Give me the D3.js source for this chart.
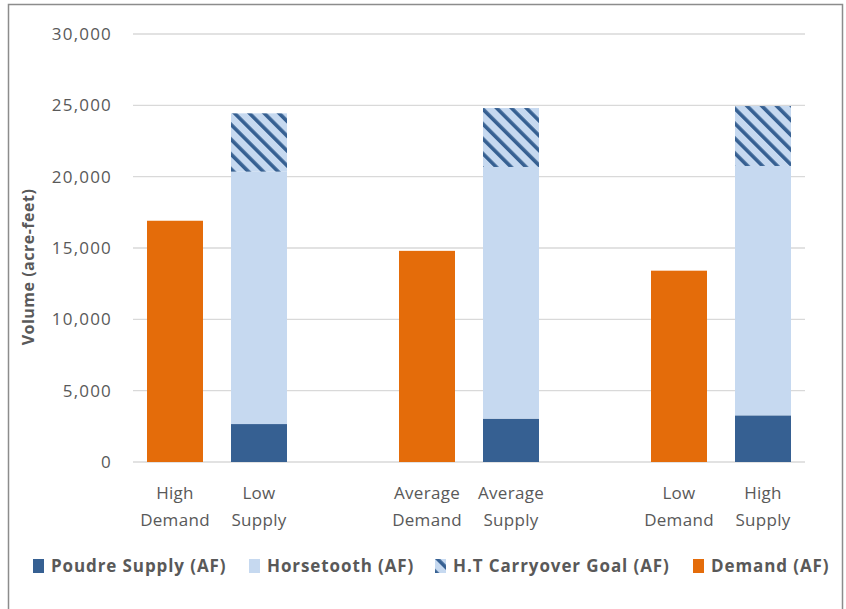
<html>
<head>
  <script src="https://d3js.org/d3.v7.min.js"></script>
  <style>
    body { margin: 0; background: #fff; }
    text { font-family: "Open Sans", sans-serif; fill: #595959; }
  </style>
</head>
<body>
  <svg id="chart" width="846" height="609"></svg>
  <script>
    // categories (blank slots are the gaps between scenario pairs)
    var categories = ["High|Demand", "Low|Supply", "", "Average|Demand", "Average|Supply", "", "Low|Demand", "High|Supply"];
    var poudre     = [0, 2660, 0, 0, 3040, 0, 0, 3270];
    var horsetooth = [0, 17690, 0, 0, 17640, 0, 0, 17480];
    var carryover  = [0, 4090, 0, 0, 4130, 0, 0, 4200];
    var demand     = [16910, 0, 0, 14800, 0, 0, 13410, 0];
    var yTicks = [0, 5000, 10000, 15000, 20000, 25000, 30000];
    var seriesNames = ["Poudre Supply (AF)", "Horsetooth (AF)", "H.T Carryover Goal (AF)", "Demand (AF)"];

    var colors = { poudre: "#366092", horse: "#c6d9f0", demand: "#e46c0a" };

    var svg = d3.select("#chart");

    // outer chart border
    svg.append("rect")
      .attr("x", 8.5).attr("y", 4.5).attr("width", 834).attr("height", 620)
      .attr("fill", "none").attr("stroke", "#8c8c8c").attr("stroke-width", 1.5);

    // hatch for carryover
    var defs = svg.append("defs");
    var pat = defs.append("pattern")
      .attr("id", "hatch").attr("patternUnits", "userSpaceOnUse")
      .attr("width", 10.5).attr("height", 10.5)
      .attr("patternTransform", "rotate(-45)");
    pat.append("rect").attr("width", 10.5).attr("height", 10.5).attr("fill", colors.horse);
    pat.append("rect").attr("x", 0).attr("width", 3.6).attr("height", 10.5).attr("fill", colors.poudre);

    var x = d3.scaleBand()
      .domain(d3.range(categories.length))
      .range([133, 805])
      .paddingInner(1 / 3).paddingOuter(1 / 6);

    var y = d3.scaleLinear().domain([0, 30000]).range([462, 34]);

    // gridlines
    svg.append("g").selectAll("line")
      .data(yTicks).enter().append("line")
      .attr("x1", 133).attr("x2", 805)
      .attr("y1", d => y(d)).attr("y2", d => y(d))
      .attr("stroke", "#d9d9d9").attr("stroke-width", 1.3);

    // y axis labels
    var yAxis = svg.append("g")
      .attr("transform", "translate(133,0)")
      .call(d3.axisLeft(y).tickValues(yTicks).tickFormat(d3.format(",")).tickSize(0).tickPadding(21));
    yAxis.select(".domain").remove();
    yAxis.selectAll("text").style("font-size", "17px").style("letter-spacing", "1.2px").attr("fill", "#595959");

    svg.append("text")
      .attr("transform", "translate(34,267) rotate(-90)")
      .attr("text-anchor", "middle")
      .style("font-size", "16px").style("font-weight", "bold").style("letter-spacing", "0.5px")
      .text("Volume (acre-feet)");

    // stacked supply bars
    var stack = categories.map(function(c, i) {
      return [
        { y0: 0, y1: poudre[i], fill: colors.poudre },
        { y0: poudre[i], y1: poudre[i] + horsetooth[i], fill: colors.horse },
        { y0: poudre[i] + horsetooth[i], y1: poudre[i] + horsetooth[i] + carryover[i], fill: "url(#hatch)" }
      ].map(function(s) { s.i = i; return s; });
    });
    var flat = [].concat.apply([], stack).filter(d => d.y1 > d.y0);

    svg.append("g").selectAll("rect")
      .data(flat).enter().append("rect")
      .attr("x", d => x(d.i))
      .attr("width", x.bandwidth())
      .attr("y", d => y(d.y1))
      .attr("height", d => y(d.y0) - y(d.y1))
      .attr("fill", d => d.fill);

    svg.append("g").selectAll("rect")
      .data(demand.map((v, i) => ({ v: v, i: i })).filter(d => d.v > 0))
      .enter().append("rect")
      .attr("x", d => x(d.i))
      .attr("width", x.bandwidth())
      .attr("y", d => y(d.v))
      .attr("height", d => y(0) - y(d.v))
      .attr("fill", colors.demand);

    // category labels (two lines)
    var cat = svg.append("g").selectAll("text")
      .data(categories.map((c, i) => ({ c: c, i: i })).filter(d => d.c))
      .enter().append("text")
      .attr("text-anchor", "middle")
      .style("font-size", "17px").style("letter-spacing", "0.3px");
    cat.each(function(d) {
      var lines = d.c.split("|");
      var t = d3.select(this);
      lines.forEach(function(l, k) {
        t.append("tspan")
          .attr("x", x(d.i) + x.bandwidth() / 2)
          .attr("y", 499 + k * 27)
          .text(l);
      });
    });

    // legend
    var legendX = [33, 249, 435, 693];
    var legendFill = [colors.poudre, colors.horse, "url(#hatch)", colors.demand];
    var lg = svg.append("g").selectAll("g")
      .data(seriesNames).enter().append("g")
      .attr("transform", (d, i) => "translate(" + legendX[i] + ",559)");
    lg.append("rect").attr("width", 11).attr("height", 14).attr("fill", (d, i) => legendFill[i]);
    lg.append("text").attr("x", 18).attr("y", 13)
      .style("font-size", "17px").style("font-weight", "bold").style("letter-spacing", "0.9px")
      .text(d => d);
  </script>
</body>
</html>
